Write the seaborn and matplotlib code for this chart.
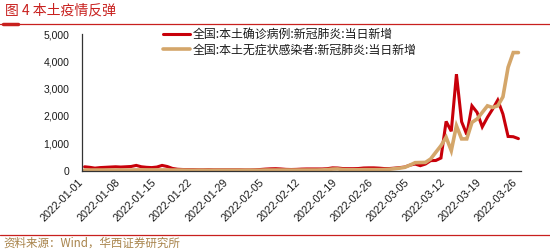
import matplotlib
matplotlib.use('Agg')
import matplotlib.pyplot as plt
import matplotlib.dates as mdates
from matplotlib.lines import Line2D
from matplotlib.ticker import FuncFormatter, FixedLocator
import seaborn as sns
import pandas as pd
import numpy as np

# ---------------- data ----------------
dates = pd.date_range('2022-01-01', '2022-03-26', freq='D')

confirmed = [
    # Jan 1-31
    140, 120, 90, 110, 120, 130, 140, 130, 140, 150, 190, 140, 120, 110, 130, 190,
    150, 80, 50, 40, 35, 35, 30, 30, 35, 30, 30, 30, 30, 30, 30,
    # Feb 1-28
    25, 25, 30, 40, 55, 65, 70, 60, 45, 40, 45, 55, 60, 60, 60, 60, 70, 100, 95,
    75, 70, 70, 75, 95, 100, 100, 90, 75,
    # Mar 1-26
    75, 90, 110, 130, 200, 240, 180, 240, 365, 370, 460, 1800, 1440, 3530, 1790,
    1320, 2370, 2130, 1600, 1950, 2250, 2580, 2070, 1250, 1240, 1170,
]

asymptomatic = [
    # Jan 1-31
    20, 20, 20, 20, 20, 20, 20, 20, 20, 20, 25, 25, 25, 25, 25, 25,
    25, 20, 20, 20, 15, 15, 15, 15, 15, 15, 15, 15, 15, 15, 15,
    # Feb 1-28
    15, 15, 15, 15, 20, 20, 20, 20, 20, 20, 20, 20, 20, 20, 20, 25, 35, 55, 60,
    40, 30, 30, 30, 35, 35, 35, 35, 40,
    # Mar 1-26
    50, 70, 90, 120, 200, 290, 295, 300, 425, 670, 910, 1220, 730, 1640, 1160,
    1160, 1765, 1890, 2130, 2370, 2310, 2370, 2700, 3780, 4320, 4320,
]

series_names = ['全国:本土确诊病例:新冠肺炎:当日新增',
                '全国:本土无症状感染者:新冠肺炎:当日新增']
series_colors = ['#C8000A', '#D4A66A']

y_ticks = [0, 1000, 2000, 3000, 4000, 5000]
x_tick_dates = pd.date_range('2022-01-01', '2022-03-26', freq='7D')

title_text = '图 4 本土疫情反弹'
source_text = '资料来源：Wind，华西证券研究所'

# ---------------- build table ----------------
df = pd.DataFrame({
    'date': list(dates) + list(dates),
    'value': confirmed + asymptomatic,
    'series': [series_names[0]] * len(dates) + [series_names[1]] * len(dates),
})
df['date'] = df['date'] + pd.Timedelta(hours=12)

# ---------------- style ----------------
sns.set_theme(style='white')
plt.rcParams['font.family'] = ['Noto Sans CJK SC', 'DejaVu Sans']

W, H = 550, 252
fig = plt.figure(figsize=(W / 100, H / 100), dpi=100)
ax = fig.add_axes([82 / W, 1 - 170.6 / H, (521 - 82) / W, (170.6 - 34) / H])

sns.lineplot(data=df, x='date', y='value', hue='series',
             hue_order=series_names, palette=series_colors,
             ax=ax, legend=True)
for line, lw in zip(ax.get_lines(), [2.2, 2.6]):
    line.set_linewidth(lw)
    line.set_solid_joinstyle('miter')

ax.set_xlim(pd.Timestamp('2022-01-01'), pd.Timestamp('2022-03-27'))
ax.set_ylim(0, 5000)
ax.set_xlabel('')
ax.set_ylabel('')

ax.yaxis.set_major_locator(FixedLocator(y_ticks))
ax.yaxis.set_major_formatter(FuncFormatter(lambda v, p: f'{int(v):,}'))
ax.xaxis.set_major_locator(FixedLocator(mdates.date2num(x_tick_dates)))
ax.xaxis.set_major_formatter(mdates.DateFormatter('%Y-%m-%d'))

for s in ['top', 'right']:
    ax.spines[s].set_visible(False)
for s in ['left', 'bottom']:
    ax.spines[s].set_color('#333333')
    ax.spines[s].set_linewidth(0.9)

ax.tick_params(axis='both', direction='in', length=3, width=0.8,
               color='#333333', labelcolor='#1a1a1a', labelsize=7.5)
ax.tick_params(axis='y', pad=9)
ax.tick_params(axis='x', pad=7)
for lab in ax.get_yticklabels():
    lab.set_fontfamily(['Liberation Sans', 'DejaVu Sans'])
for lab in ax.get_xticklabels():
    lab.set_fontfamily(['Liberation Sans', 'DejaVu Sans'])
    lab.set_fontsize(7.8)
    lab.set_rotation(45)
    lab.set_ha('right')
    lab.set_va('center')
    lab.set_rotation_mode('anchor')

# legend
handles, labels = ax.get_legend_handles_labels()
ax.get_legend().remove()
for h, lw in zip(handles, [2.2, 2.6]):
    h.set_linewidth(lw)
leg = fig.legend(handles, labels, loc='upper left',
                 bbox_to_anchor=(163 / W, 1 - 28 / H),
                 frameon=False, fontsize=8.6, handlelength=2.3,
                 handletextpad=0.2, labelspacing=0.2,
                 borderpad=0, borderaxespad=0)
for t in leg.get_texts():
    t.set_color('#1a1a1a')

# title, rules and source
red = '#C8201E'
fig.text(5 / W, 1 - 10 / H, title_text, color=red, fontsize=10,
         ha='left', va='center')
fig.add_artist(Line2D([0, 1], [1 - 24 / H] * 2, color=red, lw=0.9,
                      transform=fig.transFigure))
fig.add_artist(Line2D([3 / W, 18 / W], [1 - 24 / H] * 2, color=red, lw=2.5,
                      transform=fig.transFigure))
fig.add_artist(Line2D([0, 1], [1 - 235 / H] * 2, color=red, lw=0.9,
                      transform=fig.transFigure))
fig.text(3 / W, 1 - 243.5 / H, source_text, color='#A8834A', fontsize=8.3,
         ha='left', va='center')

fig.savefig('out.png', dpi=100)
